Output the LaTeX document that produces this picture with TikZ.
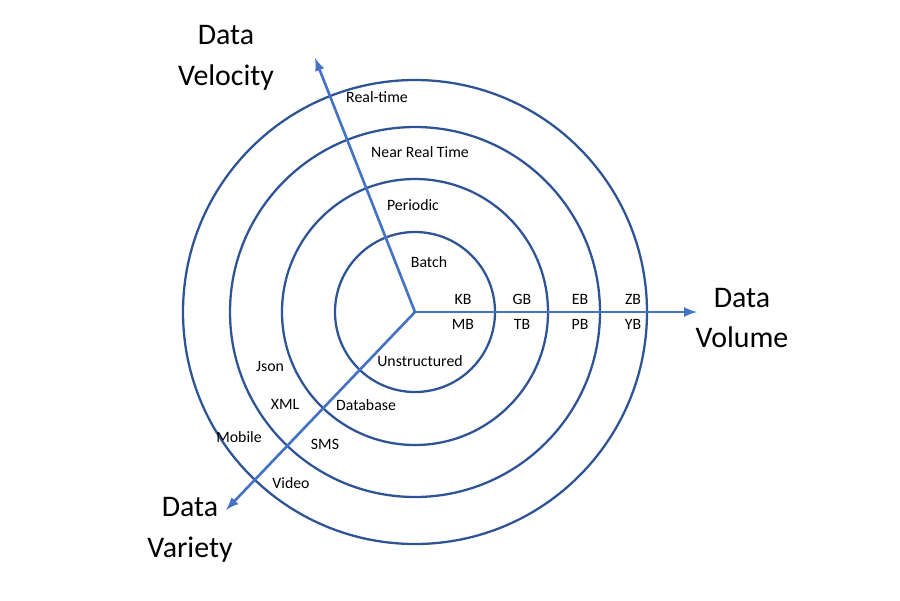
\documentclass[tikz,border=0pt]{standalone}
\usepackage{fontspec}
\setmainfont{Carlito}
\definecolor{ringblue}{RGB}{47,84,150}
\definecolor{axisblue}{RGB}{68,114,196}
\begin{document}
\begin{tikzpicture}[
    x=0.02cm, y=-0.02cm,
    ring/.style={draw=ringblue,line width=1.3pt},
    axis/.style={draw=axisblue,line width=1.5pt,-latex},
    lbl/.style={font=\fontsize{9}{10}\selectfont,inner sep=1pt},
    big/.style={font=\fontsize{17}{23}\selectfont,align=center}
]
    \useasboundingbox (0,0) rectangle (900,600);
    % rings
    \coordinate (o) at (415,312);
    \foreach \r in {80,133,185,232}
        \draw[ring] (o) circle (\r);
    % axes
    \coordinate (vel) at (315,58);
    \coordinate (vol) at (697,312);
    \coordinate (var) at (226,510);
    \draw[axis] (o) -- (vel);
    \draw[axis] (o) -- (vol);
    \draw[axis] (o) -- (var);
    % axis titles
    \node[big] (tvel) at (226,58) {Data\\Velocity};
    \node[big] (tvol) at (742,318) {Data\\Volume};
    \node[big] (tvar) at (190,530) {Data\\Variety};
    % velocity labels
    \node[lbl] (rt) at (377,97) {Real-time};
    \node[lbl] (nrt) at (420,152) {Near Real Time};
    \node[lbl] (per) at (413,205) {Periodic};
    \node[lbl] (bat) at (429,262) {Batch};
    % volume labels
    \node[lbl] (kb) at (463,299) {KB};
    \node[lbl] (mb) at (463,324) {MB};
    \node[lbl] (gb) at (522,299) {GB};
    \node[lbl] (tb) at (522,324) {TB};
    \node[lbl] (eb) at (580,299) {EB};
    \node[lbl] (pb) at (580,324) {PB};
    \node[lbl] (zb) at (633,299) {ZB};
    \node[lbl] (yb) at (633,324) {YB};
    % variety labels
    \node[lbl] (uns) at (420,361) {Unstructured};
    \node[lbl] (db) at (366,405) {Database};
    \node[lbl] (sms) at (325,444) {SMS};
    \node[lbl] (vid) at (291,483) {Video};
    \node[lbl] (json) at (270,366) {Json};
    \node[lbl] (xml) at (285,404) {XML};
    \node[lbl] (mob) at (239,437) {Mobile};
\end{tikzpicture}
\end{document}
